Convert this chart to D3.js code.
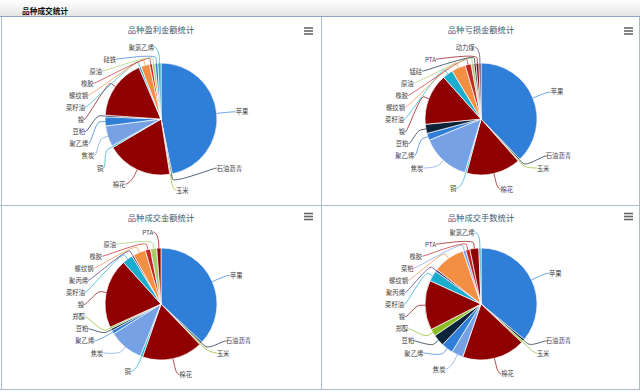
<!DOCTYPE html>
<html><head><meta charset="utf-8">
<script src="https://cdn.jsdelivr.net/npm/d3@7"></script>
<style>
body{margin:0;background:#fff;}
svg{display:block;font-family:"Noto Sans CJK SC","Noto Sans",sans-serif;}
</style>
</head><body>
<svg id="c" width="640" height="392"></svg>
<script>
// ---------------- data ----------------
const pageTitle = "品种成交统计";
const chartTitles = ["品种盈利金额统计", "品种亏损金额统计", "品种成交金额统计", "品种成交手数统计"];
const categories = ["苹果","石油沥青","玉米","棉花","铜","焦炭","聚乙烯","豆粕","郑醇","镍","菜籽油","聚丙烯","螺纹钢","菜粕","橡胶","原油","硅铁","锰硅","PTA","聚氯乙烯","动力煤"];
const profitValues = [46.8,0.4,0.3,19.0,0.5,6.0,2.6,0.5,0,17.5,0.6,0,2.5,0,0.8,0.8,0.8,0,0,0.9,0];
const lossValues   = [37.3,0.4,0.3,15.5,0.5,14.0,2.0,2.6,0,14.7,3.0,0,4.0,0,1.7,0.8,0,0.6,0.8,0,0.6];
const amountValues = [36.7,0.5,0.4,17.4,0.7,10.0,1.0,0.6,0.5,20.0,3.0,0.5,3.6,0,1.5,1.8,0,0,1.2,0,0];
const lotsValues   = [35.0,0.6,0.5,17.8,0,3.3,3.3,3.3,2.0,14.0,3.0,0.6,9.0,0.8,1.2,0,0,0,2.5,0.6,0];

// ---------------- style ----------------
const hc = ["#2f7ed8","#0d233a","#8bbc21","#910000","#1aadce","#492970","#f28f43","#77a1e5","#c42525","#a6c96a"];
const categoryColors = [hc[0],hc[1],hc[2],hc[3],hc[4],hc[7],hc[0],hc[1],hc[2],hc[3],hc[4],hc[5],hc[6],hc[7],hc[8],hc[9],hc[0],hc[1],hc[3],hc[4],hc[5]];

const svg = d3.select("#c");
const defs = svg.append("defs");
const g1 = defs.append("linearGradient").attr("id","hdr").attr("x1",0).attr("y1",0).attr("x2",0).attr("y2",1);
g1.append("stop").attr("offset","0%").attr("stop-color","#ffffff");
g1.append("stop").attr("offset","100%").attr("stop-color","#e4e4e4");

// header
svg.append("rect").attr("x",0).attr("y",0).attr("width",640).attr("height",16.5).attr("fill","url(#hdr)");
svg.append("text").attr("x",22).attr("y",10.5).attr("dominant-baseline","central")
  .attr("font-size",7.7).attr("font-weight","bold").attr("fill","#111").text(pageTitle);
svg.append("line").attr("x1",0).attr("x2",640).attr("y1",16.5).attr("y2",16.5).attr("stroke","#8aa4c2").attr("stroke-width",1.2);

// panel borders
const borderColor = "#a9bccf";
[[1.5,17,1.5,390],[321.5,17,321.5,390],[0,205.5,640,205.5],[0,389.5,640,389.5],[639.5,17,639.5,390]].forEach(l=>{
  svg.append("line").attr("x1",l[0]).attr("y1",l[1]).attr("x2",l[2]).attr("y2",l[3])
    .attr("stroke",borderColor).attr("stroke-width",1);
});

const panels = [
  {values: profitValues, cx:161, cy:119, ty:28.5, my:28, mx:304},
  {values: lossValues,   cx:481, cy:119, ty:29,   my:28, mx:624},
  {values: amountValues, cx:161, cy:304, ty:216.5, my:213.5, mx:304},
  {values: lotsValues,   cx:481, cy:304, ty:216.5, my:213.5, mx:624}
];

const r = 56, dist = 16, slotH = 12.1, pad = 3, off = 5;
const pie = d3.pie().sort(null).value(d=>d.v).startAngle(0).endAngle(2*Math.PI);
const arc = d3.arc().innerRadius(0).outerRadius(r);

panels.forEach((p,pi)=>{
  const g = svg.append("g");
  g.append("text").attr("x",p.cx).attr("y",p.ty).attr("text-anchor","middle").attr("dominant-baseline","central")
    .attr("font-size",8.3).attr("fill","#3e576f").text(chartTitles[pi]);
  [0,3,6].forEach(dy=>{
    g.append("line").attr("x1",p.mx).attr("x2",p.mx+9).attr("y1",p.my+dy).attr("y2",p.my+dy)
      .attr("stroke","#666").attr("stroke-width",1.6);
  });

  const data = categories.map((c,i)=>({c, v:p.values[i], color:categoryColors[i]})).filter(d=>d.v>0);
  const arcs = pie(data);
  const pg = g.append("g").attr("transform",`translate(${p.cx},${p.cy})`);
  pg.selectAll("path").data(arcs).join("path").attr("d",arc)
    .attr("fill",d=>d.data.color).attr("stroke","#fff").attr("stroke-width",0.7).attr("stroke-linejoin","round");

  // label layout (slot distribution)
  const R = r + dist, cx = p.cx, cy = p.cy;
  const pts = arcs.map(a=>{
    const m = (a.startAngle+a.endAngle)/2;
    return {a, m, half: m < Math.PI ? 0 : 1,
      ny: cy - R*Math.cos(m),
      ex: cx + r*Math.sin(m), ey: cy - r*Math.cos(m),
      bx: cx + (r+off)*Math.sin(m), by: cy - (r+off)*Math.cos(m)};
  });
  const getX = (y,left)=>{
    const s = Math.max(-1,Math.min(1,(y-cy)/R));
    return cx + (left?-1:1)*Math.cos(Math.asin(s))*R;
  };
  [0,1].forEach(half=>{
    const points = pts.filter(q=>q.half===half).sort(half===0?(a,b)=>a.m-b.m:(a,b)=>b.m-a.m);
    const slots = [];
    for(let pos=cy-R; pos<=cy+R+0.01; pos+=slotH) slots.push(pos);
    const n = slots.length, L = points.length;
    const used = [];
    points.forEach((q,j)=>{
      let best = Infinity, si = 0;
      for(let k=0;k<n;k++){
        if(slots[k]===null) continue;
        const d = Math.abs(slots[k]-q.ny);
        if(d<best){best=d;si=k;}
      }
      if(si<j && slots[j]!==null){ si=j; }
      else if(n < L - j + si && slots[j]!==null){ si = n - L + j; while(slots[si]===null) si++; }
      else { while(slots[si]===null) si++; }
      used.push({i:si, y:slots[si]});
      slots[si]=null;
    });
    used.sort((a,b)=>b.y-a.y);
    points.forEach(q=>{
      const s = used.pop();
      let y = s.y;
      if((q.ny > y && slots[s.i+1]!==null) || (q.ny < y && slots[s.i-1]!==null)) y = q.ny;
      const x = getX((s.i===0 || s.i===n-1) ? q.ny : y, half===1);
      q.lx = x + (half===1 ? -2 : 0); q.ly = y;
    });
  });

  pts.forEach(q=>{
    const left = q.half===1;
    const sx = q.lx + (left?-pad:pad);
    const path = `M${sx},${q.ly}C${q.lx},${q.ly},${2*q.bx-q.ex},${2*q.by-q.ey},${q.bx},${q.by}L${q.ex},${q.ey}`;
    g.append("path").attr("d",path).attr("fill","none").attr("stroke",q.a.data.color).attr("stroke-width",0.7);
    g.append("text").attr("x",sx).attr("y",q.ly).attr("dominant-baseline","central")
      .attr("text-anchor",left?"end":"start").attr("font-size",6.3).attr("fill","#444").text(q.a.data.c);
  });
});
</script>
</body></html>
